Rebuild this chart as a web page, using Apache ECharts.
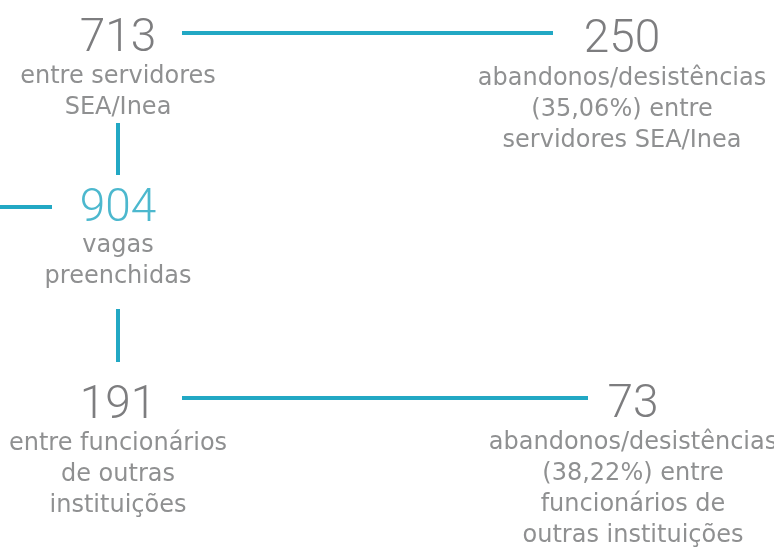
<!DOCTYPE html>
<html>
<head>
<meta charset="utf-8">
<script src="https://cdn.jsdelivr.net/npm/echarts@6/dist/echarts.min.js"></script>
<style>
  html, body { margin: 0; padding: 0; background: #fff; }
  #chart { width: 774px; height: 549px; }
</style>
</head>
<body>
<div id="chart"></div>
<script>
// figures shown in the diagram
const totals = ['713', '250', '904', '191', '73'];
const notes = [
    ['entre servidores', 'SEA/Inea'],
    ['abandonos/desistências', '(35,06%) entre', 'servidores SEA/Inea'],
    ['vagas', 'preenchidas'],
    ['entre funcionários', 'de outras', 'instituições'],
    ['abandonos/desistências', '(38,22%) entre', 'funcionários de', 'outras instituições']
];
// layout in page pixels: centre x, y of the big number, top y of the note block
const nodeX = [118, 622, 118, 118, 633];
const numY = [39, 40, 209.5, 406, 405.5];
const noteY = [61, 63, 230, 428, 427];
const highlight = [false, false, true, false, false];
// connectors [from, to]
const links = [
    [[182, 33], [553, 33]],
    [[118, 123], [118, 175]],
    [[0, 207], [52, 207]],
    [[118, 309], [118, 362]],
    [[182, 398], [588, 398]]
];

const teal = '#1fa6c2';
const grey = '#5c5d5f';

let chart = echarts.init(document.getElementById('chart'));

let option = {
    animation: false,
    grid: { left: 0, right: 0, top: 0, bottom: 0 },
    xAxis: { type: 'value', min: 0, max: 774, show: false },
    yAxis: { type: 'value', min: 0, max: 549, inverse: true, show: false },
    series: [
        {
            type: 'lines',
            coordinateSystem: 'cartesian2d',
            lineStyle: { color: '#22a8c4', width: 4, opacity: 1, cap: 'butt' },
            data: links.map(l => ({ coords: l }))
        },
        {
            // big numbers
            type: 'scatter',
            symbolSize: 0,
            label: {
                show: true,
                position: 'inside',
                fontSize: 46,
                fontWeight: 300,
                fontFamily: 'Roboto',
                formatter: p => p.data.name
            },
            data: totals.map((t, i) => ({
                name: t,
                value: [nodeX[i], numY[i]],
                label: { color: highlight[i] ? teal : grey }
            }))
        },
        {
            // captions under the numbers
            type: 'scatter',
            symbolSize: 0,
            label: {
                show: true,
                position: 'bottom',
                distance: 0,
                align: 'center',
                formatter: p => p.data.name,
                fontSize: 24,
                fontFamily: 'DejaVu Sans',
                color: '#737476',
                lineHeight: 31
            },
            data: notes.map((n, i) => ({
                name: n.join('\n'),
                value: [nodeX[i], noteY[i]]
            }))
        }
    ]
};
chart.setOption(option);
</script>
</body>
</html>
